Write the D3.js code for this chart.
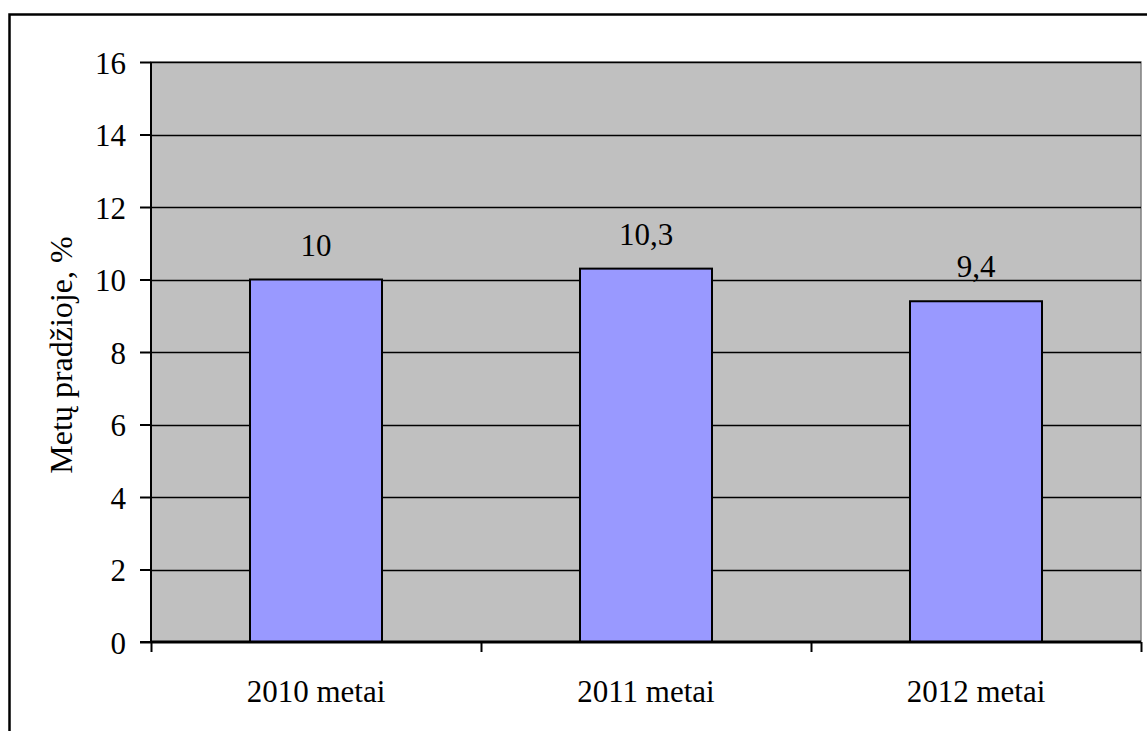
<!DOCTYPE html>
<html><head><meta charset="utf-8">
<script src="https://cdn.jsdelivr.net/npm/d3@7"></script>
<style>body{margin:0;background:#fff;}svg{display:block;font-family:"Liberation Serif","Times New Roman",serif;}</style>
</head><body>
<svg id="c" width="1147" height="731"></svg>
<script>
const categories = ["2010 metai", "2011 metai", "2012 metai"];
const values = [10, 10.3, 9.4];
const valueLabels = ["10", "10,3", "9,4"];
const yTicks = [0, 2, 4, 6, 8, 10, 12, 14, 16];
const yTitle = "Metų pradžioje, %";

const svg = d3.select("#c");
const L = 151, R = 1141, T = 62, B = 642;
const fs = 31;

// outer border
svg.append("rect").attr("x", 9.5).attr("y", 14.5).attr("width", 1147).attr("height", 760)
  .attr("fill", "none").attr("stroke", "#000").attr("stroke-width", 2.5);

const x = d3.scaleBand().domain(categories).range([L, R]).paddingInner(0).paddingOuter(0);
const y = d3.scaleLinear().domain([0, 16]).range([B, T]);

// plot area
svg.append("rect").attr("x", L).attr("y", T).attr("width", R - L).attr("height", B - T)
  .attr("fill", "#C0C0C0").attr("stroke", "#808080").attr("stroke-width", 1.5);

// gridlines
svg.append("g").selectAll("line").data(yTicks.filter(d => d > 0)).join("line")
  .attr("x1", L).attr("x2", R).attr("y1", d => Math.round(y(d)) + 0.5).attr("y2", d => Math.round(y(d)) + 0.5)
  .attr("stroke", "#000").attr("stroke-width", 1.5);

// bars
const bw = x.bandwidth() * 0.4;
svg.append("g").selectAll("rect").data(values).join("rect")
  .attr("x", (d, i) => x(categories[i]) + (x.bandwidth() - bw) / 2)
  .attr("y", d => y(d))
  .attr("width", bw)
  .attr("height", d => B - y(d))
  .attr("fill", "#9999FF").attr("stroke", "#000").attr("stroke-width", 2);

// value labels
svg.append("g").selectAll("text").data(values).join("text")
  .attr("x", (d, i) => x(categories[i]) + x.bandwidth() / 2)
  .attr("y", d => y(d) - 24)
  .attr("text-anchor", "middle").attr("font-size", fs).attr("fill", "#000")
  .text((d, i) => valueLabels[i]);

// y axis
const yAxis = d3.axisLeft(y).tickValues(yTicks).tickSize(11).tickPadding(14).tickFormat(d3.format("d"));
const gy = svg.append("g").attr("transform", `translate(${L},0)`).call(yAxis);
gy.attr("font-family", null);
gy.selectAll("text").attr("font-size", fs).attr("font-family", "Liberation Serif").attr("fill", "#000").attr("dy", "0.36em");
gy.selectAll("line").attr("stroke", "#000").attr("stroke-width", 2);
gy.select(".domain").attr("stroke", "#000").attr("stroke-width", 2).attr("d", `M-11,${B}H0V${T}`);

// x axis
const xAxis = d3.axisBottom(d3.scaleLinear().domain([0, 3]).range([L, R])).tickValues([0, 1, 2, 3]).tickSize(10).tickFormat("");
const gx = svg.append("g").attr("transform", `translate(0,${B})`).call(xAxis);
gx.selectAll("line").attr("stroke", "#000").attr("stroke-width", 2);
gx.select(".domain").attr("stroke", "#000").attr("stroke-width", 3).attr("d", `M${L},0H${R}`);

svg.append("g").selectAll("text").data(categories).join("text")
  .attr("x", d => x(d) + x.bandwidth() / 2).attr("y", 702)
  .attr("text-anchor", "middle").attr("font-size", fs).attr("fill", "#000").text(d => d);

// y title
svg.append("text").attr("transform", `translate(72,${(T + B) / 2 + 3}) rotate(-90)`)
  .attr("text-anchor", "middle").attr("font-size", 32).attr("fill", "#000").text(yTitle);
</script>
</body></html>
